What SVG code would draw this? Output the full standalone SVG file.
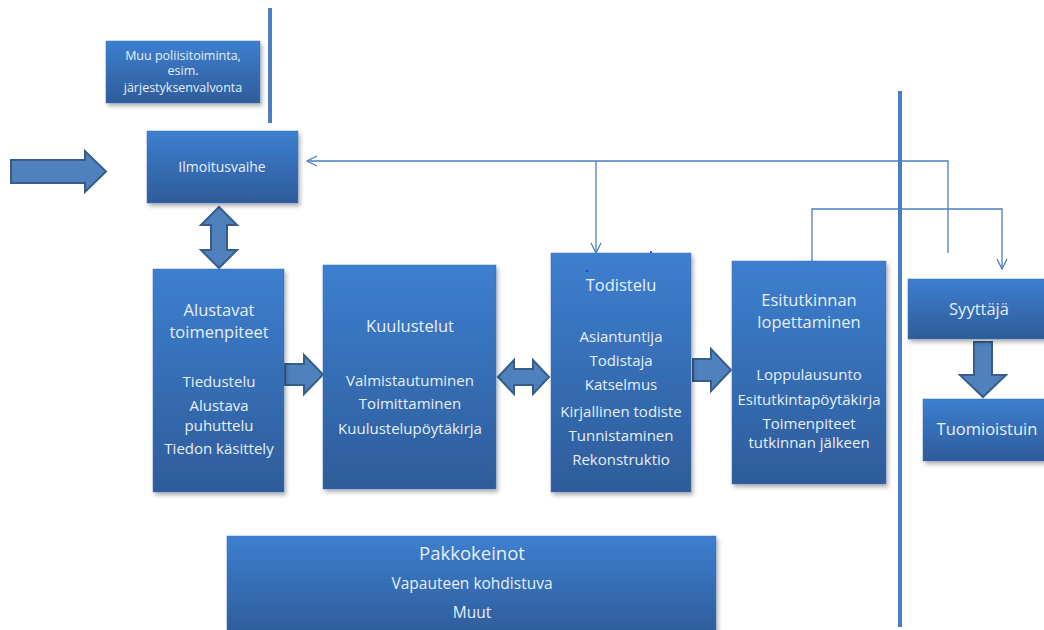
<svg xmlns="http://www.w3.org/2000/svg" width="1044" height="630" viewBox="0 0 1044 630">
<defs>
<linearGradient id="g" x1="0" y1="0" x2="0" y2="1">
<stop offset="0" stop-color="#3d7fcf"/>
<stop offset="1" stop-color="#2e5c9a"/>
</linearGradient>
<filter id="sh" x="-10%" y="-10%" width="130%" height="130%">
<feDropShadow dx="2" dy="3" stdDeviation="2" flood-color="#000" flood-opacity="0.3"/>
</filter>
<marker id="open" viewBox="0 0 12 12" refX="11" refY="6" markerWidth="12" markerHeight="12" markerUnits="userSpaceOnUse" orient="auto">
<path d="M1,1 L11,6 L1,11" fill="none" stroke="#4a7fc1" stroke-width="1.3"/>
</marker>
</defs>
<style>
.box{fill:url(#g);filter:url(#sh);stroke:#3a6fb0;stroke-width:0.5}
.t{font-family:"Open Sans","Noto Sans","DejaVu Sans",sans-serif;fill:#e6eef8;text-anchor:middle;font-size:15px}
.h{font-size:16.5px}
.s{font-size:12.5px}
.m{font-size:15.5px}
.big{font-size:18.5px}
.arr{fill:#4f81bd;stroke:#385d8a;stroke-width:2}
.bar{stroke:#4a7fc1;stroke-width:4}
.con{fill:none;stroke:#4a7fc1;stroke-width:1.3}
</style>
<rect width="1044" height="630" fill="#fff"/>

<g id="bars">
<line class="bar" x1="270" y1="8" x2="270" y2="123" stroke-width="3"/>
<line class="bar" x1="900" y1="91" x2="900" y2="627"/>
</g>

<g id="connectors">
<polyline class="con" points="948,253 948,161 307,161" marker-end="url(#open)"/>
<polyline class="con" points="596,161 596,253" marker-end="url(#open)"/>
<polyline class="con" points="812,270 812,209 1002,209 1002,269" marker-end="url(#open)"/>
<path class="arr" d="M11,160 L85,160 L85,151 L106,171.5 L85,192 L85,183 L11,183 Z"/>
<path class="arr" d="M219,207 L237,225 L227,225 L227,250 L237,250 L219,268 L201,250 L211,250 L211,225 L201,225 Z"/>
<path class="arr" d="M285,364 L304,364 L304,355 L323,374.5 L304,394 L304,385 L285,385 Z"/>
<path class="arr" d="M498,377 L514,360 L514,369 L533,369 L533,360 L549,377 L533,394 L533,385 L514,385 L514,394 Z"/>
<path class="arr" d="M693,359 L711,359 L711,349 L731,370 L711,391 L711,381 L693,381 Z"/>
<path class="arr" d="M974,342 L992,342 L992,375 L1006,375 L983,397 L960,375 L974,375 Z"/>
</g>

<g id="muu">
<rect class="box" x="106" y="41" width="154" height="62"/>
<text class="t s" x="183" y="60">Muu poliisitoiminta,</text>
<text class="t s" x="183" y="75">esim.</text>
<text class="t s" x="183" y="92">järjestyksenvalvonta</text>
</g>

<g id="ilmoitusvaihe">
<rect class="box" x="147" y="131" width="151" height="72"/>
<text class="t" x="222" y="172" style="font-size:14px">Ilmoitusvaihe</text>
</g>

<g id="alustavat">
<rect class="box" x="153" y="269" width="131" height="223"/>
<text class="t h" x="219" y="316">Alustavat</text>
<text class="t h" x="219" y="338">toimenpiteet</text>
<text class="t" x="219" y="387">Tiedustelu</text>
<text class="t" x="219" y="411">Alustava</text>
<text class="t" x="219" y="431">puhuttelu</text>
<text class="t" x="219" y="454">Tiedon käsittely</text>
</g>

<g id="kuulustelut">
<rect class="box" x="323" y="265" width="173" height="224"/>
<text class="t h" x="410" y="332">Kuulustelut</text>
<text class="t" x="410" y="386">Valmistautuminen</text>
<text class="t" x="410" y="409">Toimittaminen</text>
<text class="t" x="410" y="434">Kuulustelupöytäkirja</text>
</g>

<g id="todistelu">
<rect class="box" x="551" y="253" width="140" height="239"/>
<circle cx="587" cy="271" r="1" fill="#1a1aff"/>
<circle cx="651" cy="252" r="1" fill="#1a1aff"/>
<text class="t h" x="621" y="291">Todistelu</text>
<text class="t" x="621" y="342">Asiantuntija</text>
<text class="t" x="621" y="366">Todistaja</text>
<text class="t" x="621" y="390">Katselmus</text>
<text class="t" x="621" y="417">Kirjallinen todiste</text>
<text class="t" x="621" y="441">Tunnistaminen</text>
<text class="t" x="621" y="465">Rekonstruktio</text>
</g>

<g id="esitutkinnan">
<rect class="box" x="732" y="261" width="154" height="223"/>
<text class="t h" x="809" y="306">Esitutkinnan</text>
<text class="t h" x="809" y="328">lopettaminen</text>
<text class="t" x="809" y="380">Loppulausunto</text>
<text class="t" x="809" y="405">Esitutkintapöytäkirja</text>
<text class="t" x="809" y="429">Toimenpiteet</text>
<text class="t" x="809" y="448">tutkinnan jälkeen</text>
</g>

<g id="syyttaja">
<rect class="box" x="908" y="279" width="140" height="60"/>
<text class="t h" x="979" y="315">Syyttäjä</text>
</g>

<g id="tuomioistuin">
<rect class="box" x="923" y="399" width="125" height="62"/>
<text class="t h" x="987" y="435">Tuomioistuin</text>
</g>

<g id="pakkokeinot">
<rect class="box" x="227" y="536" width="489" height="100"/>
<text class="t big" x="472" y="560">Pakkokeinot</text>
<text class="t m" x="472" y="589">Vapauteen kohdistuva</text>
<text class="t m" x="472" y="618">Muut</text>
</g>
</svg>
